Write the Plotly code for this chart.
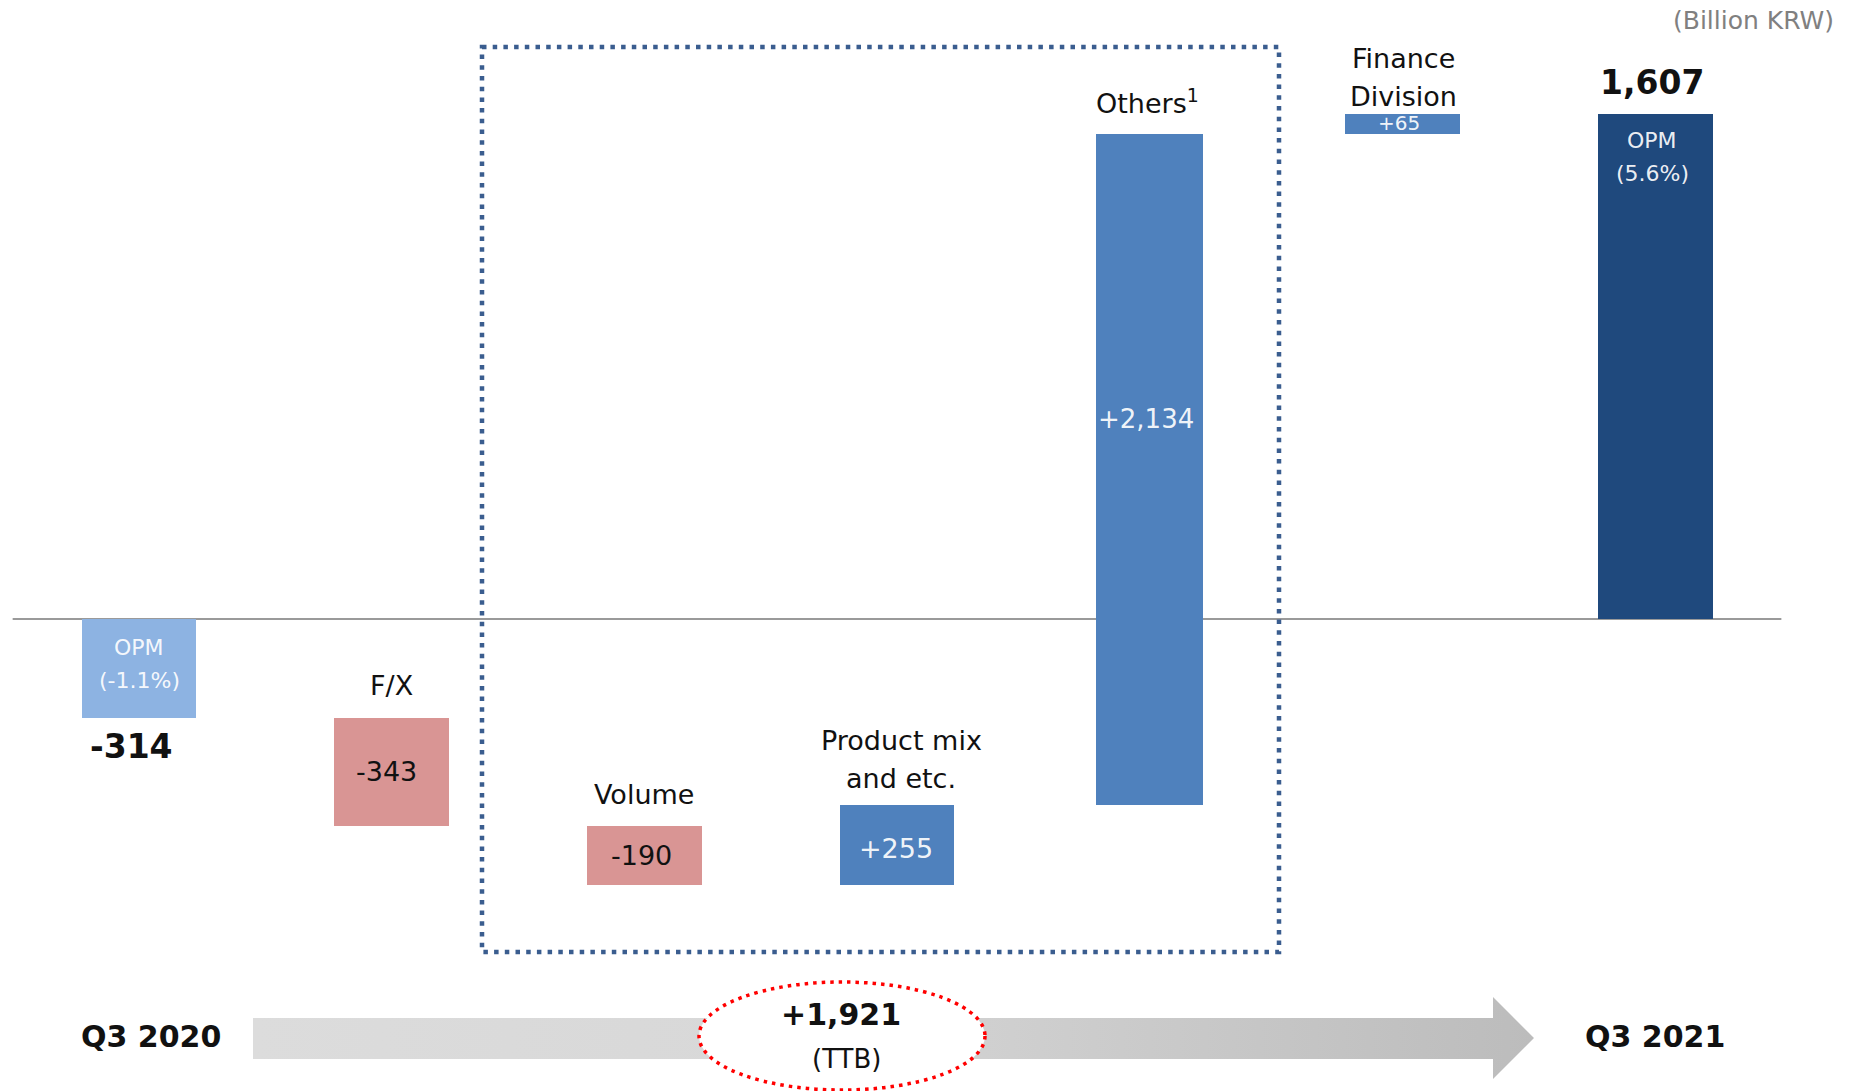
import plotly.graph_objects as go

# Operating profit bridge, Q3 2020 -> Q3 2021 (Billion KRW)
categories = ["Q3 2020", "F/X", "Volume", "Product mix<br>and etc.",
              "Others<sup>1</sup>", "Finance<br>Division", "Q3 2021"]
start_value = -314
deltas = [-343, -190, 255, 2134, 65]
end_value = 1607
value_labels = ["-314", "-343", "-190", "+255", "+2,134", "+65", "1,607"]
opm_start = "OPM<br>(-1.1%)"
opm_end = "OPM<br>(5.6%)"
bar_colors = ["#8db3e2", "#d99594", "#d99594", "#4f81bd", "#4f81bd", "#4f81bd", "#1f497d"]

# waterfall: each change bar starts where the running total left off
bases, values = [0], [start_value]
running = start_value
for d in deltas:
    bases.append(running)
    values.append(d)
    running += d
bases.append(0)
values.append(end_value)
ttb_total = sum(deltas)

xs = list(range(len(categories)))
widths = [0.455, 0.455, 0.455, 0.455, 0.424, 0.455, 0.455]
tops = [max(b, b + v) for b, v in zip(bases, values)]
bottoms = [min(b, b + v) for b, v in zip(bases, values)]
mids = [(t + b) / 2 for t, b in zip(tops, bottoms)]

FONT = "DejaVu Sans"
BLACK = "#111111"
WHITE = "rgba(255,255,255,0.93)"

fig = go.Figure()
fig.add_trace(go.Bar(
    x=xs, y=values, base=bases, width=widths,
    marker=dict(color=bar_colors, line=dict(width=0)),
    hoverinfo="skip", showlegend=False,
))

# grey progress arrow along the bottom (drawn on a pixel-scaled overlay axis)
arrow_x = [253, 1493, 1493, 1534, 1493, 1493, 253, 253]
arrow_y = [1018, 1018, 997, 1038, 1079, 1059, 1059, 1018]
fig.add_trace(go.Scatter(
    x=arrow_x, y=arrow_y, xaxis="x2", yaxis="y2",
    mode="lines", fill="toself", line=dict(width=0, color="rgba(0,0,0,0)"),
    fillgradient=dict(type="horizontal",
                      colorscale=[[0, "#dcdcdc"], [0.4, "#d8d8d8"], [1, "#bcbcbc"]]),
    hoverinfo="skip", showlegend=False,
))

shapes = [
    # zero line
    dict(type="line", xref="x", yref="y", x0=-0.5, x1=6.5, y0=0, y1=0,
         line=dict(color="#9a9a9a", width=2), layer="below"),
    # dotted box around the operating drivers
    dict(type="rect", xref="x2", yref="y2", x0=482, x1=1279, y0=47, y1=952,
         line=dict(color="#3a5d8f", width=4.5, dash="4.5px,6.2px"),
         fillcolor="rgba(0,0,0,0)", layer="above"),
    # red dotted ellipse for the total change
    dict(type="circle", xref="x2", yref="y2", x0=699, x1=985, y0=982, y1=1090,
         line=dict(color="#ff0000", width=3.5, dash="3.5px,5px"),
         fillcolor="white", layer="above"),
]

def ann(x, y, text, size, color=BLACK, bold=False, yshift=0, xshift=0,
        xref="x", yref="y", xanchor="center", yanchor="middle"):
    t = f"<b>{text}</b>" if bold else text
    return dict(x=x, y=y, xref=xref, yref=yref, text=t, showarrow=False,
                xanchor=xanchor, yanchor=yanchor, xshift=xshift, yshift=yshift,
                font=dict(family=FONT, size=size, color=color))

def two_lines(x, y, text, size, color, shifts, xshift=0):
    # stack the two lines of a label with explicit spacing
    return [ann(x, y, line, size, color, yshift=s, xshift=xshift)
            for line, s in zip(text.split("<br>"), shifts)]

annotations = [
    # Q3 2020
    *two_lines(0, tops[0], opm_start, 22, WHITE, [-28, -61]),
    ann(0, bottoms[0], value_labels[0], 33, bold=True, yshift=-29, xshift=-8),
    # F/X
    ann(1, tops[1], categories[1], 27, yshift=32),
    ann(1, mids[1], value_labels[1], 27, xshift=-5),
    # Volume
    ann(2, tops[2], categories[2], 27, yshift=31),
    ann(2, mids[2], value_labels[2], 27, xshift=-3),
    # Product mix
    *two_lines(3, tops[3], categories[3], 27, BLACK, [65, 27], xshift=4),
    ann(3, mids[3], value_labels[3], 27, WHITE, xshift=-1, yshift=-3),
    # Others
    ann(4, tops[4], categories[4], 27, yshift=33, xshift=-2),
    ann(4, 636, value_labels[4], 26, WHITE, xshift=-4),
    # Finance Division
    *two_lines(5, tops[5], categories[5], 27, BLACK, [55, 17], xshift=1),
    ann(5, mids[5], value_labels[5], 20, WHITE, xshift=-3, yshift=1),
    # Q3 2021
    ann(6, tops[6], value_labels[6], 33, bold=True, yshift=31, xshift=-3),
    *two_lines(6, tops[6], opm_end, 22, WHITE, [-27, -60], xshift=-3),
    # unit
    ann(1836, 20, "(Billion KRW)", 25, "#808080", xref="x2", yref="y2", xanchor="right"),
    # period labels and total change
    ann(151, 1036, categories[0], 30, bold=True, xref="x2", yref="y2"),
    ann(1655, 1036, categories[6], 30, bold=True, xref="x2", yref="y2"),
    ann(841, 1014, f"+{ttb_total:,}", 30, bold=True, xref="x2", yref="y2"),
    ann(846, 1059, "(TTB)", 26, xref="x2", yref="y2"),
]

step = 252.67
fig.update_layout(
    width=1854, height=1091,
    margin=dict(l=0, r=0, t=0, b=0),
    paper_bgcolor="white", plot_bgcolor="white",
    xaxis=dict(range=[-139 / step, (1854 - 139) / step], visible=False, fixedrange=True),
    yaxis=dict(range=[-(1091 - 619) / 0.3145, 619 / 0.3145], visible=False, fixedrange=True),
    xaxis2=dict(range=[0, 1854], overlaying="x", visible=False, fixedrange=True),
    yaxis2=dict(range=[1091, 0], overlaying="y", visible=False, fixedrange=True),
    shapes=shapes,
    annotations=annotations,
    bargap=0,
    showlegend=False,
)

fig.write_html("out.html")
